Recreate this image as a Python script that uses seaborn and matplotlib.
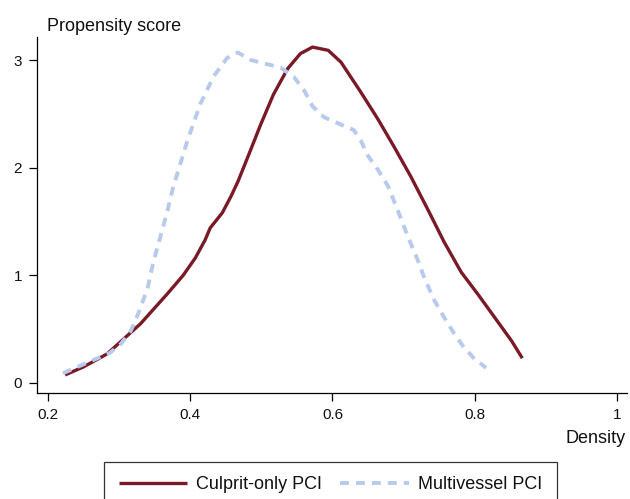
import matplotlib
matplotlib.use("Agg")
import matplotlib.pyplot as plt
import seaborn as sns
import pandas as pd

# ---- data ----
culprit_x = [0.224, 0.250, 0.283, 0.330, 0.368, 0.390, 0.407, 0.421, 0.428, 0.445,
             0.457, 0.467, 0.481, 0.499, 0.517, 0.537, 0.555, 0.572, 0.594, 0.612,
             0.640, 0.664, 0.687, 0.710, 0.735, 0.757, 0.781, 0.805, 0.828, 0.852, 0.867]
culprit_y = [0.075, 0.15, 0.27, 0.55, 0.83, 1.00, 1.16, 1.33, 1.44, 1.58,
             1.73, 1.87, 2.10, 2.40, 2.68, 2.92, 3.06, 3.12, 3.09, 2.98,
             2.70, 2.45, 2.19, 1.92, 1.60, 1.31, 1.03, 0.82, 0.61, 0.39, 0.23]

multi_x = [0.221, 0.259, 0.287, 0.302, 0.316, 0.326, 0.340, 0.348, 0.358, 0.368,
           0.376, 0.396, 0.414, 0.433, 0.452, 0.467, 0.485, 0.509, 0.527, 0.546,
           0.560, 0.572, 0.588, 0.612, 0.630, 0.640, 0.650, 0.664, 0.678, 0.692,
           0.706, 0.720, 0.729, 0.743, 0.757, 0.771, 0.785, 0.799, 0.816]
multi_y = [0.09, 0.20, 0.28, 0.36, 0.48, 0.63, 0.88, 1.12, 1.36, 1.60,
           1.82, 2.25, 2.59, 2.85, 3.02, 3.07, 3.00, 2.96, 2.93, 2.84,
           2.72, 2.57, 2.47, 2.40, 2.35, 2.25, 2.11, 1.98, 1.83, 1.60,
           1.36, 1.14, 0.98, 0.77, 0.61, 0.46, 0.33, 0.23, 0.14]

groups = ["Culprit-only PCI", "Multivessel PCI"]
x_ticks = [0.2, 0.4, 0.6, 0.8, 1.0]
x_tick_labels = ["0.2", "0.4", "0.6", "0.8", "1"]
y_ticks = [0, 1, 2, 3]
y_tick_labels = ["0", "1", "2", "3"]

df = pd.concat([
    pd.DataFrame({"x": culprit_x, "y": culprit_y, "group": groups[0]}),
    pd.DataFrame({"x": multi_x, "y": multi_y, "group": groups[1]}),
], ignore_index=True)

sns.set_style("ticks")
plt.rcParams["font.family"] = ["Liberation Sans", "DejaVu Sans"]

fig = plt.figure(figsize=(6.30, 4.99), dpi=100)
ax = fig.add_axes([0.0583, 0.2124, 0.995 - 0.0583, 0.9259 - 0.2124])

red = "#7a1a26"
blue = "#b8caec"

sns.lineplot(data=df[df.group == groups[0]], x="x", y="y", ax=ax, color=red,
             linewidth=2.4, estimator=None, sort=False, legend=False)
sns.lineplot(data=df[df.group == groups[1]], x="x", y="y", ax=ax, color=blue,
             linewidth=2.8, estimator=None, sort=False, legend=False,
             dashes=False)
lines = ax.get_lines()
lines[0].set_solid_joinstyle("round")
lines[0].set_solid_capstyle("butt")
lines[1].set_dashes((2.3, 1.8))
lines[1].set_dash_capstyle("butt")
lines[1].set_dash_joinstyle("round")

ax.set_xlim(0.1841, 1.014)
ax.set_ylim(-0.093, 3.214)
ax.set_xticks(x_ticks)
ax.set_xticklabels(x_tick_labels)
ax.set_yticks(y_ticks)
ax.set_yticklabels(y_tick_labels)
ax.set_xlabel("")
ax.set_ylabel("")
ax.tick_params(axis="both", direction="out", length=5.5, width=0.9,
               color="black", labelsize=11, labelcolor="#111111", pad=5)
for s in ["left", "bottom"]:
    ax.spines[s].set_linewidth(0.9)
    ax.spines[s].set_color("black")
sns.despine(ax=ax)

fig.text(47 / 630, (499 - 31) / 499, "Propensity score", fontsize=13,
         ha="left", va="baseline", color="#111111")
fig.text(626 / 630, (499 - 443) / 499, "Density", fontsize=13,
         ha="right", va="baseline", color="#111111")

leg = fig.legend([lines[0], lines[1]], groups, loc="upper center",
                 bbox_to_anchor=(330.5 / 630, (499 - 462) / 499), ncol=2,
                 fontsize=13, frameon=True, fancybox=False, handlelength=3.8,
                 handletextpad=0.5, columnspacing=1.0, borderpad=0.8,
                 borderaxespad=0)
leg.get_frame().set_edgecolor("black")
leg.get_frame().set_linewidth(0.9)
for t in leg.get_texts():
    t.set_color("#111111")

fig.savefig("out.png", dpi=100)
